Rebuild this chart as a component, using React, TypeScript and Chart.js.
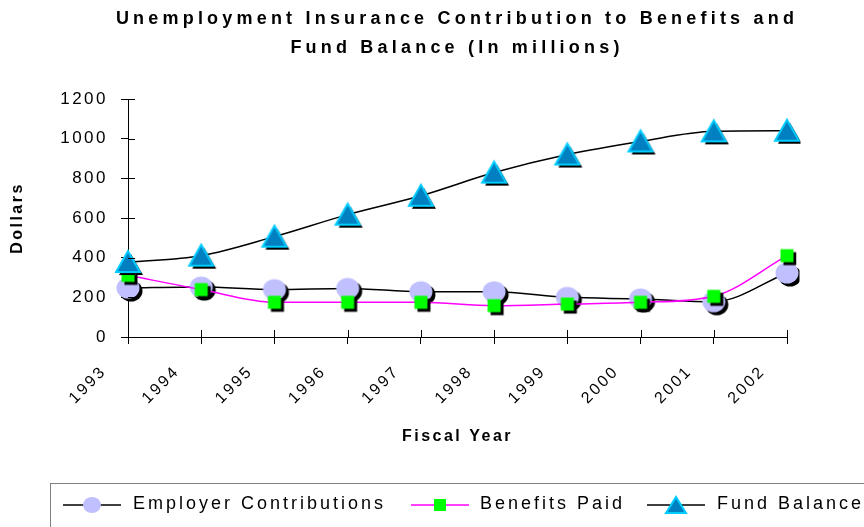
import React, { useEffect, useRef } from 'react';
import { Chart, registerables } from 'chart.js';

Chart.register(...registerables);

const years = ['1993', '1994', '1995', '1996', '1997', '1998', '1999', '2000', '2001', '2002'];
const employerContributions = [247, 252, 239, 245, 228, 228, 200, 192, 178, 323];
const benefitsPaid = [311, 239, 175, 175, 175, 158, 166, 175, 205, 410];
const fundBalance = [378, 410, 506, 617, 712, 829, 920, 986, 1037, 1040];
const yMin = 0;
const yMax = 1200;
const yStep = 200;

const titleLines = ['Unemployment Insurance Contribution to Benefits and', 'Fund Balance (In millions)'];
const FONT = "'Liberation Sans', Arial, sans-serif";

type Kind = 'circle' | 'square' | 'triangle';

function makeMarker(kind: Kind, fill: string, stroke?: string): HTMLCanvasElement {
  const c = document.createElement('canvas');
  const S = 36;
  c.width = S;
  c.height = S;
  const ctx = c.getContext('2d')!;
  const cx = S / 2;
  const cy = S / 2;
  const sh = 3;
  const path = (dx: number, dy: number) => {
    ctx.beginPath();
    if (kind === 'circle') {
      ctx.ellipse(cx + dx, cy + dy, 11.5, 10.5, 0, 0, Math.PI * 2);
    } else if (kind === 'square') {
      ctx.rect(cx + dx - 6.5, cy + dy - 6.5, 13, 13);
    } else {
      ctx.moveTo(cx + dx, cy + dy - 11);
      ctx.lineTo(cx + dx + 12, cy + dy + 10);
      ctx.lineTo(cx + dx - 12, cy + dy + 10);
      ctx.closePath();
    }
  };
  path(sh, sh);
  ctx.fillStyle = '#000000';
  ctx.fill();
  path(0, 0);
  ctx.fillStyle = fill;
  ctx.fill();
  if (stroke) {
    ctx.strokeStyle = stroke;
    ctx.lineWidth = 2;
    ctx.lineJoin = 'miter';
    ctx.stroke();
  }
  return c;
}

const spacingPlugin = {
  id: 'spacing',
  beforeUpdate(chart: any) {
    (chart.ctx as any).letterSpacing = '2.5px';
  },
  beforeDraw(chart: any) {
    (chart.ctx as any).letterSpacing = '2.5px';
  },
};

const innerTicksPlugin = {
  id: 'innerTicks',
  afterDraw(chart: any) {
    const ctx = chart.ctx;
    const x = chart.scales.x;
    const y = chart.scales.y;
    ctx.save();
    ctx.strokeStyle = '#000';
    ctx.lineWidth = 1;
    ctx.beginPath();
    for (let i = 0; i < x.ticks.length; i++) {
      const px = Math.round(x.getPixelForTick(i)) + 0.5;
      ctx.moveTo(px, x.top);
      ctx.lineTo(px, x.top - 7);
    }
    for (let i = 0; i < y.ticks.length; i++) {
      const py = Math.round(y.getPixelForTick(i)) + 0.5;
      ctx.moveTo(y.right, py);
      ctx.lineTo(y.right + 7, py);
    }
    ctx.stroke();
    ctx.restore();
  },
};

function LegendItem(props: { left: number; textLeft: number; kind: Kind; line: string; fill: string; stroke?: string; label: string }) {
  const { left, textLeft, kind, line, fill, stroke, label } = props;
  let marker: React.ReactNode;
  if (kind === 'circle') marker = <ellipse cx={29} cy={10} rx={9} ry={8} fill={fill} />;
  else if (kind === 'square') marker = <rect x={23} y={4} width={12} height={12} fill={fill} />;
  else marker = <polygon points="29,2 39,18 19,18" fill={fill} stroke={stroke} strokeWidth={2} />;
  return (
    <>
      <svg style={{ position: 'absolute', left, top: 495, width: 58, height: 20 }} viewBox="0 0 58 20">
        <line x1={0} y1={10} x2={58} y2={10} stroke={line} strokeWidth={1.5} />
        {marker}
      </svg>
      <div
        style={{
          position: 'absolute',
          left: textLeft,
          top: 493,
          fontFamily: FONT,
          fontSize: 18,
          letterSpacing: '3px',
          color: '#000',
          whiteSpace: 'nowrap',
          lineHeight: '20px',
        }}
      >
        {label}
      </div>
    </>
  );
}

export default function App() {
  const canvasRef = useRef<HTMLCanvasElement | null>(null);

  useEffect(() => {
    document.body.style.margin = '0';
    const canvas = canvasRef.current!;
    const circle = makeMarker('circle', '#c0c0ff');
    const square = makeMarker('square', '#00ff00');
    const triangle = makeMarker('triangle', '#0080c0', '#00ccff');

    const chart = new Chart(canvas, {
      type: 'line',
      data: {
        labels: years,
        datasets: [
          {
            label: 'Fund Balance',
            data: fundBalance,
            borderColor: '#000000',
            borderWidth: 1.5,
            cubicInterpolationMode: 'monotone',
            pointStyle: triangle as any,
            pointRadius: 12,
            fill: false,
          },
          {
            label: 'Benefits Paid',
            data: benefitsPaid,
            borderColor: '#ff00ff',
            borderWidth: 1.5,
            cubicInterpolationMode: 'monotone',
            pointStyle: square as any,
            pointRadius: 8,
            fill: false,
          },
          {
            label: 'Employer Contributions',
            data: employerContributions,
            borderColor: '#000000',
            borderWidth: 1.5,
            cubicInterpolationMode: 'monotone',
            pointStyle: circle as any,
            pointRadius: 11,
            fill: false,
          },
        ],
      },
      options: {
        responsive: false,
        animation: false,
        devicePixelRatio: 1,
        layout: { padding: { top: 99, left: 0, right: 77, bottom: 67 } },
        plugins: {
          legend: { display: false },
          title: { display: false },
          tooltip: { enabled: false },
        },
        scales: {
          x: {
            type: 'category',
            offset: false,
            grid: { drawOnChartArea: false, tickLength: 7, color: '#000', tickColor: '#000' },
            border: { display: true, color: '#000', width: 1 },
            ticks: {
              autoSkip: false,
              maxRotation: 45,
              minRotation: 45,
              color: '#000',
              font: { family: FONT, size: 16 },
              padding: 18,
              labelOffset: -24,
            },
            title: {
              display: true,
              text: 'Fiscal Year',
              color: '#000',
              font: { family: FONT, size: 16, weight: 'bold' },
              padding: { top: 0, bottom: 13.4 },
            },
            afterFit(scale: any) {
              scale.height = 123;
            },
          },
          y: {
            min: yMin,
            max: yMax,
            grid: { drawOnChartArea: false, tickLength: 7, color: '#000', tickColor: '#000' },
            border: { display: true, color: '#000', width: 1 },
            ticks: {
              stepSize: yStep,
              color: '#000',
              font: { family: FONT, size: 17 },
              padding: 13,
              callback: (v: any) => String(v),
            },
            title: {
              display: true,
              text: 'Dollars',
              color: '#000',
              font: { family: FONT, size: 16, weight: 'bold' },
              padding: { top: 8.4, bottom: 0 },
            },
            afterFit(scale: any) {
              scale.width = 128;
            },
          },
        },
      } as any,
      plugins: [spacingPlugin, innerTicksPlugin],
    });
    return () => chart.destroy();
  }, []);

  return (
    <div style={{ position: 'absolute', left: 0, top: 0, width: 864, height: 527, overflow: 'hidden', background: '#fff' }}>
      <canvas ref={canvasRef} width={864} height={527} style={{ position: 'absolute', left: 0, top: 0 }} />
      {titleLines.map((t, i) => (
        <div
          key={i}
          style={{
            position: 'absolute',
            left: 0,
            width: 914,
            top: 7 + i * 29,
            textAlign: 'center',
            fontFamily: FONT,
            fontWeight: 'bold',
            fontSize: 18,
            letterSpacing: '4.2px',
            lineHeight: '22px',
            color: '#000',
            whiteSpace: 'nowrap',
          }}
        >
          {t}
        </div>
      ))}
      <div
        style={{
          position: 'absolute',
          left: 50,
          top: 483,
          width: 880,
          height: 80,
          border: '1px solid #808080',
          boxSizing: 'border-box',
        }}
      />
      <LegendItem left={63} textLeft={133} kind="circle" line="#000" fill="#c0c0ff" label="Employer Contributions" />
      <LegendItem left={411} textLeft={480} kind="square" line="#ff00ff" fill="#00ff00" label="Benefits Paid" />
      <LegendItem left={647} textLeft={717} kind="triangle" line="#000" fill="#0080c0" stroke="#00ccff" label="Fund Balance" />
    </div>
  );
}
